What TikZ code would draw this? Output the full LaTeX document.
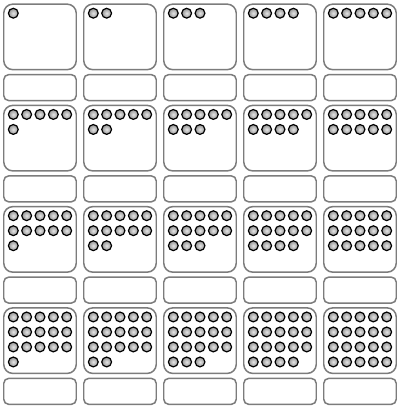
\documentclass[tikz,border=0pt]{standalone}
\definecolor{boxgray}{HTML}{7C7C7C}
\tikzset{
  bigbox/.style={draw=boxgray, line width=1.5pt, rounded corners=9bp, minimum width=72.5bp, minimum height=65.5bp, inner sep=0pt, fill=white},
  labbox/.style={draw=boxgray, line width=1.5pt, rounded corners=5bp, minimum width=72.5bp, minimum height=26bp, inner sep=0pt, fill=white},
  dotball/.style={circle, draw=black, line width=1.2pt, inner sep=0pt, minimum size=9.8bp, inner color=gray!20, outer color=gray!85}
}
\begin{document}
\begin{tikzpicture}[x=1bp,y=-1bp]
\useasboundingbox (0,0) rectangle (400,410);
\foreach \r in {0,...,3}{
  \foreach \c in {0,...,4}{
    \pgfmathsetmacro{\cx}{40+80*\c}
    \pgfmathsetmacro{\by}{36.9+101.25*\r}
    \pgfmathsetmacro{\ly}{87.6+101.25*\r}
    \node[bigbox] (b-\r-\c) at (\cx,\by) {};
    \node[labbox] (l-\r-\c) at (\cx,\ly) {};
    \pgfmathtruncatemacro{\n}{5*\r+\c}
    \foreach \k in {0,...,\n}{
      \pgfmathtruncatemacro{\kx}{mod(\k,5)}
      \pgfmathtruncatemacro{\ky}{div(\k,5)}
      \node[dotball] (d-\r-\c-\k) at ({13.3+80*\c+13.35*\kx},{13.2+101.25*\r+15*\ky}) {};
    }
  }
}
\end{tikzpicture}
\end{document}
